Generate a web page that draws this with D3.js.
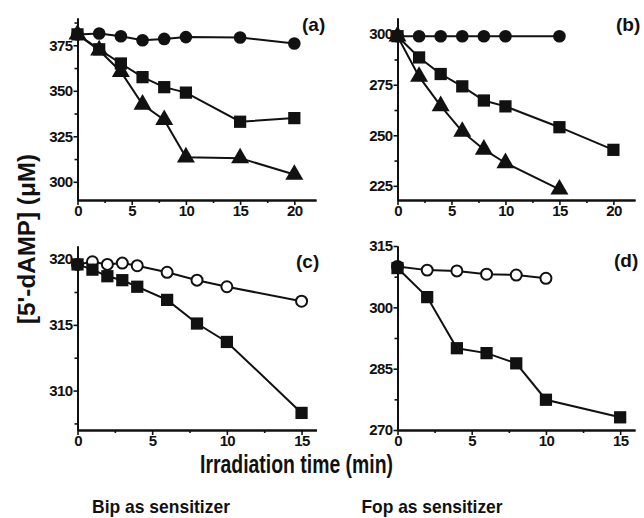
<!DOCTYPE html>
<html>
<head>
<meta charset="utf-8">
<script src="https://cdn.jsdelivr.net/npm/d3@7"></script>
<style>
	body { margin: 0; background: #fff; }
	svg { display: block; }
</style>
</head>
<body>
<div id="chart"></div>
<script>
'use strict'

// panel (a), Bip sensitizer, 0-22 min
var timeA = [0, 2, 4, 6, 8, 10, 15, 20];
var aCircle = [381, 381.5, 380, 377.8, 378.5, 379.5, 379.3, 376];
var aSquare = [381, 372.8, 365, 357.5, 352, 349, 333, 335];
var aTriangle = [381, 372.3, 360.5, 342.5, 334, 313.5, 313, 304];

// panel (b), Fop sensitizer
var timeBCircle = [0, 2, 4, 6, 8, 10, 15];
var bCircle = [299, 299, 299, 299, 299, 299, 299];
var timeBSquare = [0, 2, 4, 6, 8, 10, 15, 20];
var bSquare = [299, 288.5, 280.3, 274.2, 267.2, 264.3, 254, 242.8];
var timeBTriangle = [0, 2, 4, 6, 8, 10, 15];
var bTriangle = [299, 279, 264.5, 251.8, 243, 236.3, 223.3];

// panel (c)
var timeC = [0, 1, 2, 3, 4, 6, 8, 10, 15];
var cOpen = [319.6, 319.8, 319.6, 319.7, 319.5, 319, 318.4, 317.9, 316.8];
var cSquare = [319.6, 319.2, 318.7, 318.4, 317.9, 316.9, 315.1, 313.7, 308.3];

// panel (d)
var timeDOpen = [0, 2, 4, 6, 8, 10];
var dOpen = [310, 309.1, 308.9, 308.1, 307.9, 307.1];
var timeDSquare = [0, 2, 4, 6, 8, 10, 15];
var dSquare = [309.6, 302.5, 290, 288.8, 286.3, 277.4, 273.1];

// axis ticks
var xMajorAB = [0, 5, 10, 15, 20];
var xMajorCD = [0, 5, 10, 15];
var yMajorA = [300, 325, 350, 375];
var yMajorB = [225, 250, 275, 300];
var yMajorC = [310, 315, 320];
var yMajorD = [270, 285, 300, 315];

var panelLabels = ['(a)', '(b)', '(c)', '(d)'];
var yTitle = '[5\'-dAMP] (\u03bcM)';
var xTitle = 'Irradiation time (min)';
var sensitizers = ['Bip as sensitizer', 'Fop as sensitizer'];

var FONT = '"Liberation Sans", Arial, sans-serif';

function zip(xs, ys) {
	return xs.map(function(x, i) { return { x: x, y: ys[i] }; });
}

function minorTicks(major, step, domain) {
	var out = [];
	var start = major[0] - Math.ceil((major[0] - domain[0]) / step) * step;
	for (var v = start; v <= domain[1] + 1e-9; v += step) {
		var isMajor = major.some(function(m) { return Math.abs(m - v) < 1e-9; });
		if (!isMajor && v >= domain[0] - 1e-9) { out.push(v); }
	}
	return out;
}

var panels = [
	{
		left: 77.5, right: 316, top: 18, bottom: 200,
		xDomain: [0, 22], yDomain: [290, 390],
		xMajor: xMajorAB, yMajor: yMajorA, label: panelLabels[0], labelX: 302, labelY: 31,
		series: [
			{ shape: 'circle', data: zip(timeA, aCircle) },
			{ shape: 'square', data: zip(timeA, aSquare) },
			{ shape: 'triangle', data: zip(timeA, aTriangle) }
		]
	},
	{
		left: 397.5, right: 635, top: 18, bottom: 200,
		xDomain: [0, 22], yDomain: [218, 308],
		xMajor: xMajorAB, yMajor: yMajorB, label: panelLabels[1], labelX: 616, labelY: 31,
		series: [
			{ shape: 'circle', data: zip(timeBCircle, bCircle) },
			{ shape: 'square', data: zip(timeBSquare, bSquare) },
			{ shape: 'triangle', data: zip(timeBTriangle, bTriangle) }
		]
	},
	{
		left: 77.5, right: 316.5, top: 246, bottom: 430,
		xDomain: [0, 16], yDomain: [307, 321],
		xMajor: xMajorCD, yMajor: yMajorC, label: panelLabels[2], labelX: 296, labelY: 268,
		series: [
			{ shape: 'open', data: zip(timeC, cOpen) },
			{ shape: 'square', data: zip(timeC, cSquare) }
		]
	},
	{
		left: 397.5, right: 635, top: 246, bottom: 430,
		xDomain: [0, 16], yDomain: [270, 315],
		xMajor: xMajorCD, yMajor: yMajorD, label: panelLabels[3], labelX: 614, labelY: 267,
		series: [
			{ shape: 'open', data: zip(timeDOpen, dOpen) },
			{ shape: 'square', data: zip(timeDSquare, dSquare) }
		]
	}
];

var svg = d3.select('#chart')
	.append('svg')
	.attr('width', 644)
	.attr('height', 518);

var symbols = {
	circle: d3.symbol().type(d3.symbolCircle).size(125),
	open: d3.symbol().type(d3.symbolCircle).size(95),
	square: d3.symbol().type(d3.symbolSquare).size(150),
	triangle: d3.symbol().type(d3.symbolTriangle).size(140)
};

panels.forEach(function(p) {
	var x = d3.scaleLinear().domain(p.xDomain).range([p.left, p.right]);
	var y = d3.scaleLinear().domain(p.yDomain).range([p.bottom, p.top]);

	var g = svg.append('g');

	// minor ticks first, then the major axis on top
	g.append('g')
		.attr('transform', 'translate(0,' + p.bottom + ')')
		.call(d3.axisBottom(x).tickValues(minorTicks(p.xMajor, 2.5, p.xDomain)).tickSize(3).tickSizeOuter(0).tickFormat(''))
		.call(styleAxis);
	g.append('g')
		.attr('transform', 'translate(' + p.left + ',0)')
		.call(d3.axisLeft(y).tickValues(minorTicks(p.yMajor, (p.yMajor[1] - p.yMajor[0]) / 2, p.yDomain)).tickSize(3).tickSizeOuter(0).tickFormat(''))
		.call(styleAxis);

	g.append('g')
		.attr('transform', 'translate(0,' + p.bottom + ')')
		.call(d3.axisBottom(x).tickValues(p.xMajor).tickSize(5).tickPadding(0).tickSizeOuter(0))
		.call(styleAxis);
	g.append('g')
		.attr('transform', 'translate(' + p.left + ',0)')
		.call(d3.axisLeft(y).tickValues(p.yMajor).tickSize(4).tickPadding(1).tickSizeOuter(0))
		.call(styleAxis);

	var line = d3.line()
		.x(function(d) { return x(d.x); })
		.y(function(d) { return y(d.y); });

	p.series.forEach(function(s) {
		g.append('path')
			.datum(s.data)
			.attr('d', line)
			.attr('fill', 'none')
			.attr('stroke', '#111')
			.attr('stroke-width', 2);
	});

	p.series.forEach(function(s) {
		g.selectAll(null)
			.data(s.data)
			.enter().append('path')
			.attr('transform', function(d) { return 'translate(' + x(d.x) + ',' + y(d.y) + ')'; })
			.attr('d', symbols[s.shape])
			.attr('fill', s.shape === 'open' ? '#fff' : '#111')
			.attr('stroke', '#111')
			.attr('stroke-width', s.shape === 'open' ? 2 : 0);
	});

	g.append('text')
		.attr('x', p.labelX)
		.attr('y', p.labelY)
		.attr('font-family', FONT)
		.attr('font-weight', 'bold')
		.attr('font-size', 19)
		.attr('fill', '#111')
		.text(p.label);
});

function styleAxis(sel) {
	sel.select('.domain').attr('stroke', '#111').attr('stroke-width', 2);
	sel.selectAll('.tick line').attr('stroke', '#111').attr('stroke-width', 1.6);
	sel.selectAll('.tick text')
		.attr('fill', '#111')
		.attr('font-family', FONT)
		.attr('font-weight', 'bold')
		.attr('font-size', 15)
		.attr('letter-spacing', -0.6);
	sel.attr('font-family', null).attr('font-size', null);
}

svg.append('text')
	.attr('transform', 'translate(35,239) rotate(-90)')
	.attr('text-anchor', 'middle')
	.attr('font-family', FONT)
	.attr('font-weight', 'bold')
	.attr('font-size', 24)
	.attr('textLength', 170)
	.attr('lengthAdjust', 'spacingAndGlyphs')
	.attr('fill', '#111')
	.text(yTitle);

svg.append('text')
	.attr('x', 296.5)
	.attr('y', 473)
	.attr('text-anchor', 'middle')
	.attr('font-family', FONT)
	.attr('font-weight', 'bold')
	.attr('font-size', 25)
	.attr('textLength', 193)
	.attr('lengthAdjust', 'spacingAndGlyphs')
	.attr('fill', '#111')
	.text(xTitle);

svg.selectAll('.sens')
	.data(sensitizers)
	.enter().append('text')
	.attr('class', 'sens')
	.attr('x', function(d, i) { return i === 0 ? 161 : 432; })
	.attr('y', 513)
	.attr('text-anchor', 'middle')
	.attr('font-family', FONT)
	.attr('font-weight', 'bold')
	.attr('font-size', 19)
	.attr('textLength', function(d, i) { return i === 0 ? 138 : 141; })
	.attr('lengthAdjust', 'spacingAndGlyphs')
	.attr('fill', '#111')
	.text(function(d) { return d; });
</script>
</body>
</html>
